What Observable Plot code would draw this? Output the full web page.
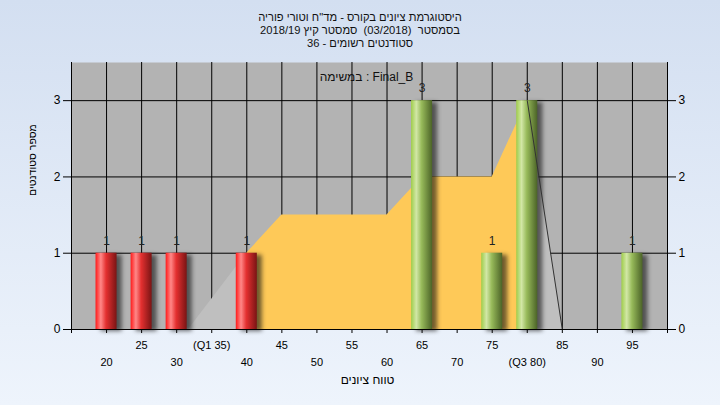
<!DOCTYPE html>
<html><head><meta charset="utf-8">
<script src="https://cdn.jsdelivr.net/npm/d3@7"></script>
<script src="https://cdn.jsdelivr.net/npm/@observablehq/plot@0.6"></script>
<style>
body{margin:0;}
#wrap{position:relative;width:720px;height:405px;background:linear-gradient(to bottom,#d3dff1,#eef4fc);overflow:hidden;font-family:"Liberation Sans",Arial,sans-serif;}
#chart{position:absolute;left:0;top:0;}
#title{position:absolute;left:0;top:11px;width:720px;text-align:center;font-size:11.2px;line-height:13px;direction:rtl;color:#111;white-space:pre;}
.shadow{filter:blur(2px);}
</style></head><body>
<div id="wrap"><div id="chart"></div>
<div id="title"><div>היסטוגרמת ציונים בקורס - מד"ח וטורי פוריה</div><div>בסמסטר  (03/2018)  סמסטר קיץ 2018/19</div><div>סטודנטים רשומים - 36</div></div></div>
<script>
const bins = [20,25,30,35,40,45,50,55,60,65,70,75,80,85,90,95];
const counts = [1,1,1,0,1,0,0,0,0,3,0,1,3,0,0,1];
const tickLabels = ["20","25","30","(Q1 35)","40","45","50","55","60","65","70","75","(Q3 80)","85","90","95"];
const curveX = [31.7,40,45,60,65,75,80,85];
const curveY = [0,1,1.5,1.5,2,2,3,0];
const yTicks = [0,1,2,3];
const seriesLabel = "במשימה : Final_B";
const yTitle = "מספר סטודנטים";
const xTitle = "טווח ציונים";
const passGrade = 55;

const bars = bins.map((b,i)=>({bin:b,count:counts[i]})).filter(d=>d.count>0);
const ticks = bins.map((b,i)=>({bin:b,label:tickLabels[i],row:i%2}));
const curve = curveX.map((x,i)=>({x,y:curveY[i]}));
const grayLeft = curve.slice(0,2), yellow = curve.slice(1,7), grayRight = curve.slice(6,8);

function gradDefs(){
  const g = d3.create("svg:g");
  const defs = g.append("defs");
  const mk=(id,stops)=>{const lg=defs.append("linearGradient").attr("id",id).attr("x1",0).attr("x2",1).attr("y1",0).attr("y2",0);
    stops.forEach(([o,c])=>lg.append("stop").attr("offset",o).attr("stop-color",c));};
  mk("redGrad",[[0,"#ff1a1a"],[0.25,"#ff8888"],[0.5,"#e43030"],[1,"#7a1414"]]);
  mk("greenGrad",[[0,"#9fcd4a"],[0.25,"#d2e7a6"],[0.5,"#97ba5a"],[1,"#4b6327"]]);
  return g.node();
}

const bw = 1.5;
const chart = Plot.plot({
  width:720, height:405,
  marginTop:62, marginBottom:76, marginLeft:71, marginRight:53,
  x:{domain:[15,100]},
  y:{domain:[0,3.5]},
  style:{background:"transparent",fontFamily:"Liberation Sans, Arial, sans-serif",color:"#000",overflow:"visible"},
  marks:[
    gradDefs,
    Plot.frame({fill:"#b3b3b3"}),
    Plot.ruleX(bins,{stroke:"#000",strokeWidth:1}),
    Plot.ruleY(yTicks.filter(d=>d>0),{stroke:"#000",strokeWidth:1}),
    Plot.areaY(grayLeft,{x:"x",y:"y",fill:"#bfbfbf"}),
    Plot.areaY(yellow,{x:"x",y:"y",fill:"#fec958"}),
    Plot.areaY(grayRight,{x:"x",y:"y",fill:"#bfbfbf"}),
    Plot.rect(bars,{x1:d=>d.bin-bw,x2:d=>d.bin+bw,y1:0,y2:"count",fill:"#111",fillOpacity:0.6,dx:5,dy:2,className:"shadow"}),
    Plot.rect(bars.filter(d=>d.bin<passGrade),{x1:d=>d.bin-bw,x2:d=>d.bin+bw,y1:0,y2:"count",fill:"url(#redGrad)"}),
    Plot.rect(bars.filter(d=>d.bin>=passGrade),{x1:d=>d.bin-bw,x2:d=>d.bin+bw,y1:0,y2:"count",fill:"url(#greenGrad)"}),
    Plot.line(grayRight,{x:"x",y:"y",stroke:"#333",strokeWidth:1}),
    Plot.ruleY([0],{stroke:"#000"}),
    Plot.ruleX([15,100],{stroke:"#000"}),
    Plot.text(bars,{x:"bin",y:"count",text:d=>String(d.count),dy:-12,fontSize:12,fill:"#222"}),
    Plot.text([seriesLabel],{frameAnchor:"top",dy:15,dx:-3,lineAnchor:"middle",fontSize:12,fill:"#111"}),
    Plot.axisY({anchor:"left",ticks:yTicks,tickFormat:d3.format("d"),tickSize:8,tickPadding:3,fontSize:12,label:null}),
    Plot.axisY({anchor:"right",ticks:yTicks,tickFormat:d3.format("d"),tickSize:8,tickPadding:3,fontSize:12,label:null}),
    Plot.axisX({ticks:d3.range(15,101,5),tickSize:4,tickFormat:()=>"",label:null}),
    Plot.text(ticks.filter(d=>d.row===1),{x:"bin",text:"label",frameAnchor:"bottom",dy:16,lineAnchor:"middle",fontSize:11,fill:"#000"}),
    Plot.text(ticks.filter(d=>d.row===0),{x:"bin",text:"label",frameAnchor:"bottom",dy:33,lineAnchor:"middle",fontSize:11,fill:"#000"}),
    Plot.text([yTitle],{frameAnchor:"left",dx:-39,rotate:-90,fontSize:10.5,fill:"#000"}),
    Plot.text([xTitle],{frameAnchor:"bottom",dy:51,dx:-2,lineAnchor:"middle",fontSize:12,fill:"#000"})
  ]
});
document.getElementById("chart").appendChild(chart);
</script>
</body></html>
